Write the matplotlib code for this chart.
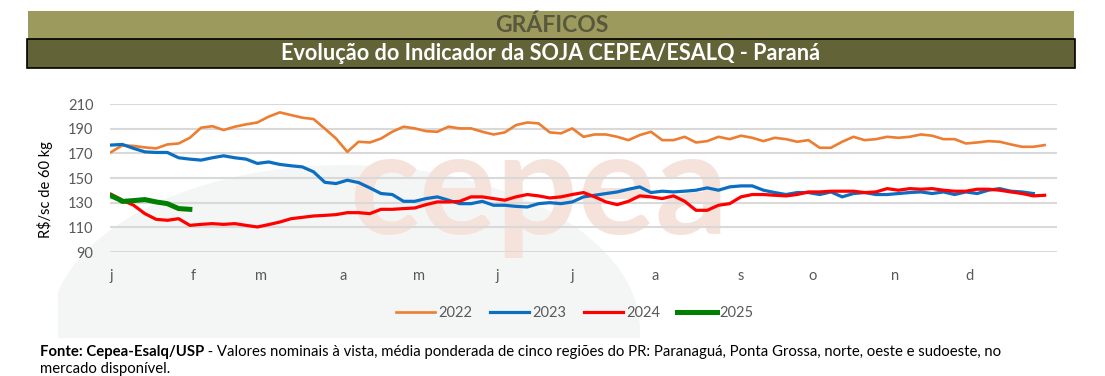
#!/usr/bin/env python3
import matplotlib
matplotlib.use('Agg')
from matplotlib import pyplot as plt
from matplotlib.patches import Rectangle, Ellipse

# Data (trading-day index along the year, R$/sc 60 kg)
days = list(range(0, 250, 3))
soja_2022 = [171, 176.5, 176, 174.8, 174, 177.2, 178, 182.6, 190.8, 192, 188.9, 191.6,
             193.5, 195, 199.7, 203.2, 201, 198.9, 197.8, 190, 182, 171.2, 179.4, 178.8,
             182, 187.5, 191.6, 190.2, 188, 187.5, 191.6, 190.2, 190.2, 187.5, 185.3, 187,
             192.9, 195, 194.3, 187, 186.2, 190.2, 183.4, 185.3, 185.3, 183.4, 180.7, 184.8,
             187.5, 180.7, 180.7, 183.4, 178.8, 179.9, 183.4, 181.5, 184.3, 182.6, 179.9,
             182.6, 181.5, 179.4, 180.7, 174.5, 174.5, 179.4, 183.4, 180.7, 181.5, 183.4,
             182.6, 183.4, 185.3, 184.3, 181.5, 181.5, 178, 178.8, 179.9, 179.4, 177.2,
             175.3, 175.3, 176.7]
soja_2023 = [176.7, 177.2, 174, 171.2, 170.7, 170.7, 166.4, 165.3, 164.5, 166.4, 168, 166.4,
             165.3, 161.8, 163, 161, 159.9, 159, 155, 146.5, 145.5, 148.2, 146.3, 142,
             137.4, 136.6, 131.1, 131.1, 133.3, 134.7, 132, 129.2, 129.2, 131.1, 127.9, 127.9,
             127, 126.5, 129.2, 130, 129.2, 130.6, 134.7, 136, 137.4, 138.7, 140.9, 142.8,
             138.2, 139.3, 138.7, 139.3, 140.1, 142, 140.1, 142.8, 143.6, 143.6, 140.1,
             138.2, 136.6, 138.2, 138.2, 136.6, 138.7, 134.7, 137.4, 138.2, 136.6, 136.6,
             137.4, 138.2, 138.7, 137.4, 138.7, 136.6, 138.7, 137.4, 140.1, 141.4, 139.3,
             138.7, 137.4]
soja_2024 = [136.8, 132, 127.9, 121.1, 116.5, 115.7, 117, 111.6, 112.4, 113, 112.4, 113,
             111.6, 110.3, 112.2, 114.3, 117, 118.1, 119.2, 119.7, 120.3, 121.9, 121.9, 121.1,
             124.6, 124.6, 125.2, 125.7, 128.4, 130.6, 130.6, 131.1, 134.7, 134.7, 133.3, 132,
             134.7, 136.6, 135.5, 133.8, 134.7, 136.6, 138.2, 134.7, 130.6, 128.4, 131.1,
             135.5, 134.7, 133.3, 135.5, 131.1, 123.8, 123.8, 127.9, 129.2, 134.7, 136.6,
             136.6, 136, 135.5, 136.6, 138.7, 138.7, 139.3, 139.3, 139.3, 138.2, 138.7,
             141.4, 140.1, 141.4, 140.9, 141.4, 140.1, 139.3, 139.3, 140.9, 140.9, 140.1,
             138.7, 137.4, 135.5, 136]
days_2025 = [0, 2, 3, 6, 9, 12, 15, 18, 21]
soja_2025 = [135.5, 132.8, 131, 131.7, 132.5, 130.6, 129.2, 125.2, 124.6]

month_pos = [0, 22, 40, 62, 82, 103, 123, 145, 168, 187, 209, 229]
month_lbl = ['j', 'f', 'm', 'a', 'm', 'j', 'j', 'a', 's', 'o', 'n', 'd']
yticks = [90, 110, 130, 150, 170, 190, 210]

W, H = 1105, 376
plt.rcParams['font.family'] = ['Lato', 'DejaVu Sans']
fig = plt.figure(figsize=(W / 100, H / 100), dpi=100)

# faint background shape behind the chart
clip = Rectangle((58 / W, 1 - 338 / H), 1000 / W, 200 / H, transform=fig.transFigure)
bg = Ellipse((345 / W, 1 - 330 / H), 590 / W, 330 / H, transform=fig.transFigure,
             facecolor='#f4f6f6', edgecolor='none', zorder=-2)
fig.add_artist(bg)
bg.set_clip_path(clip)

# header bars
fig.patches.append(Rectangle((28 / W, 1 - 39 / H), 1046 / W, 28 / H, transform=fig.transFigure,
                             facecolor='#9c9a5c', edgecolor='none'))
fig.patches.append(Rectangle((27 / W, 1 - 68 / H), 1048 / W, 29 / H, transform=fig.transFigure,
                             facecolor='#636338', edgecolor='black', linewidth=1.2))
fig.text(552 / W, 1 - 25 / H, 'GRÁFICOS', ha='center', va='center', fontsize=16.5,
         fontweight='bold', color='#57583c')
fig.text(551 / W, 1 - 54 / H, 'Evolução do Indicador da SOJA CEPEA/ESALQ - Paraná',
         ha='center', va='center', fontsize=15.6, fontweight='bold', color='white')

# watermark
fig.text(539 / W, 1 - 192 / H, 'cepea', ha='center', va='center', fontsize=104,
         fontweight='bold', color='#f5e2db', zorder=-1)

ax = fig.add_axes([110 / W, 124 / H, 947 / W, 148 / H])
ax.set_facecolor('none')
ax.plot(days, soja_2022, color='#ed7d31', lw=1.9, label='2022')
ax.plot(days[:len(soja_2023)], soja_2023, color='#0a6fc2', lw=2.3, label='2023')
ax.plot(days, soja_2024, color='#ff0000', lw=2.3, label='2024')
ax.plot(days_2025, soja_2025, color='#008000', lw=3.6, label='2025')

ax.set_xlim(-0.3, 252.3)
ax.set_ylim(90, 210)
ax.set_yticks(yticks)
ax.set_xticks(month_pos)
ax.set_xticklabels(month_lbl)
ax.grid(axis='y', color='#d9d9d9', lw=1.5)
ax.set_axisbelow(True)
for s in ax.spines.values():
    s.set_visible(False)
ax.tick_params(axis='both', length=0, labelsize=10.5, colors='#595959')
ax.tick_params(axis='x', pad=12)
ax.tick_params(axis='y', pad=12)
fig.text(45 / W, 1 - 190 / H, 'R$/sc de 60 kg', rotation=90, fontsize=10.5,
         ha='center', va='center')

fig.legend(loc='center', bbox_to_anchor=(575 / W, 1 - 313 / H), ncol=4, frameon=False,
           fontsize=10.5, handlelength=2.7, handletextpad=0.2, columnspacing=1.2,
           labelcolor='#595959')

src = fig.text(40 / W, 1 - 352 / H, 'Fonte: Cepea-Esalq/USP', fontsize=10.7,
               fontweight='bold', va='center')
fig.add_artist(plt.Annotation(
    ' - Valores nominais à vista, média ponderada de cinco regiões do PR: '
    'Paranaguá, Ponta Grossa, norte, oeste e sudoeste, no',
    xy=(1, 0.5), xycoords=src, va='center', fontsize=10.7))
fig.text(40 / W, 1 - 369 / H, 'mercado disponível.', fontsize=10.7, va='center')

fig.savefig('out.png', dpi=100)
